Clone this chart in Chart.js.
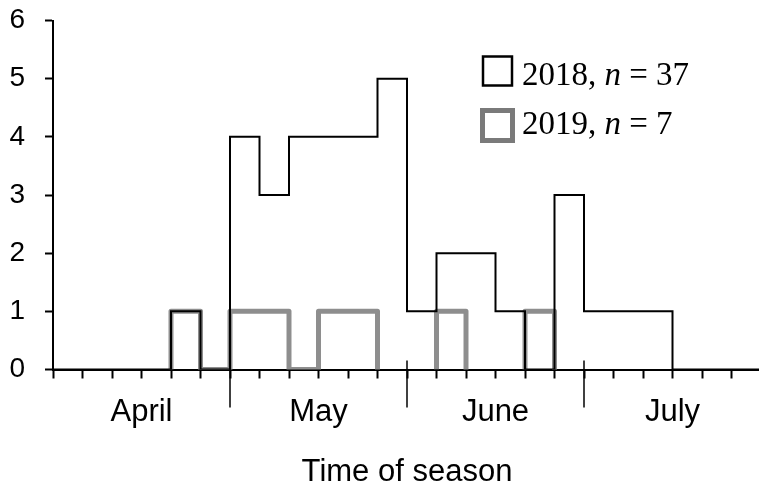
<!DOCTYPE html>
<html>
<head>
<meta charset="utf-8">
<script src="https://cdn.jsdelivr.net/npm/chart.js@4.4.1/dist/chart.umd.min.js"></script>
<style>
  html, body { margin: 0; padding: 0; overflow: hidden; background: #fff; }
</style>
</head>
<body>
<canvas id="myChart" width="764" height="489"></canvas>
<script>
// weekly bins, six per month
const months = ['April', 'May', 'June', 'July'];
const binsPerMonth = 6;
const seriesNames = ['2018', '2019'];
const sampleSizes = [37, 7];
const counts2018 = [0, 0, 0, 0, 1, 0,   4, 3, 4, 4, 4, 5,   1, 2, 2, 1, 0, 3,   1, 1, 1, 0, 0, 0];
const counts2019 = [null, null, null, null, 1, 0,   1, 1, 0, 1, 1, null,   null, 1, null, null, 1, null,   null, null, null, null, null, null];
const yTicks = [0, 1, 2, 3, 4, 5, 6];

const sans = "'Liberation Sans', Arial, sans-serif";
const serif = "'Liberation Serif', 'Times New Roman', serif";

// turn bin counts into a step outline; null bins leave a gap
function stepPoints(vals) {
  const pts = [];
  let open = false;
  vals.forEach(function(v, i) {
    if (v === null) {
      if (open) {
        pts.push({x: i, y: 0});
        pts.push({x: i, y: null});
        open = false;
      }
      return;
    }
    if (!open) {
      pts.push({x: i, y: 0});
      open = true;
    }
    pts.push({x: i, y: v}, {x: i + 1, y: v});
  });
  if (open) pts.push({x: vals.length, y: 0});
  return pts;
}

const nBins = months.length * binsPerMonth;

const monthTicks = {
  id: 'monthTicks',
  afterDraw(chart) {
    const ctx = chart.ctx;
    const xs = chart.scales.x;
    const y0 = chart.scales.y.getPixelForValue(0);
    ctx.save();
    ctx.strokeStyle = '#000';
    ctx.lineWidth = 1.5;
    for (let m = 1; m < months.length; m++) {
      const px = xs.getPixelForValue(m * binsPerMonth);
      ctx.beginPath();
      ctx.moveTo(px, y0 - 9);
      ctx.lineTo(px, y0 + 38);
      ctx.stroke();
    }
    ctx.restore();
  }
};

const boxLegend = {
  id: 'boxLegend',
  afterDraw(chart) {
    const ctx = chart.ctx;
    const rows = [
      {box: [483, 56.5, 29, 29], lw: 2.5, color: '#000', base: 85},
      {box: [482.5, 110.5, 30, 30], lw: 5, color: '#7a7a7a', base: 134}
    ];
    ctx.save();
    chart.data.datasets.forEach(function(ds, i) {
      const r = rows[i];
      ctx.strokeStyle = r.color;
      ctx.lineWidth = r.lw;
      ctx.strokeRect(r.box[0], r.box[1], r.box[2], r.box[3]);
      ctx.fillStyle = '#000';
      ctx.textBaseline = 'alphabetic';
      let x = 522;
      ctx.font = '33px ' + serif;
      const a = ds.label + ', ';
      ctx.fillText(a, x, r.base);
      x += ctx.measureText(a).width;
      ctx.font = 'italic 33px ' + serif;
      ctx.fillText('n', x, r.base);
      x += ctx.measureText('n').width;
      ctx.font = '33px ' + serif;
      ctx.fillText(' = ' + sampleSizes[i], x, r.base);
    });
    ctx.restore();
  }
};

const ctx = document.getElementById('myChart').getContext('2d');
new Chart(ctx, {
  type: 'line',
  data: {
    datasets: [{
      label: seriesNames[0],
      data: stepPoints(counts2018),
      borderColor: '#000',
      borderWidth: 2,
      pointRadius: 0,
      fill: false,
      clip: {left: 5, top: 5, right: 5, bottom: 0}
    }, {
      label: seriesNames[1],
      data: stepPoints(counts2019),
      borderColor: '#8e8e8e',
      borderWidth: 5,
      borderJoinStyle: 'round',
      pointRadius: 0,
      fill: false,
      clip: {left: 5, top: 5, right: 5, bottom: 0}
    }]
  },
  options: {
    responsive: false,
    animation: false,
    layout: { padding: {top: 20.5, right: 3, left: 0, bottom: 0} },
    plugins: {
      legend: { display: false },
      tooltip: { enabled: false }
    },
    scales: {
      x: {
        type: 'linear',
        min: 0,
        max: nBins,
        z: 1,
        afterFit(scale) {
          scale.height = 119.5;
          scale.paddingLeft = 0;
          scale.paddingRight = 0;
        },
        border: { color: '#000', width: 2 },
        grid: { drawOnChartArea: false, tickLength: 9, tickColor: '#000', tickWidth: 2 },
        ticks: {
          stepSize: 1,
          autoSkip: false,
          maxRotation: 0,
          padding: 15,
          color: '#000',
          font: { family: sans, size: 31 },
          callback: function(v) {
            const c = v - binsPerMonth / 2;
            if (c % binsPerMonth === 0 && c >= 0) return months[c / binsPerMonth];
            return '';
          }
        },
        title: {
          display: true,
          text: 'Time of season',
          color: '#000',
          font: { family: sans, size: 31, lineHeight: 1 },
          padding: { top: 0, bottom: 1 }
        }
      },
      y: {
        min: yTicks[0],
        max: yTicks[yTicks.length - 1],
        z: 1,
        afterFit(scale) {
          scale.width = 53;
          scale.paddingTop = 0;
          scale.paddingBottom = 0;
        },
        border: { color: '#000', width: 2 },
        grid: { drawOnChartArea: false, tickLength: 8, tickColor: '#000', tickWidth: 2 },
        ticks: {
          stepSize: 1,
          padding: 20,
          color: '#000',
          font: { family: sans, size: 28 }
        }
      }
    }
  },
  plugins: [monthTicks, boxLegend]
});
</script>
</body>
</html>
